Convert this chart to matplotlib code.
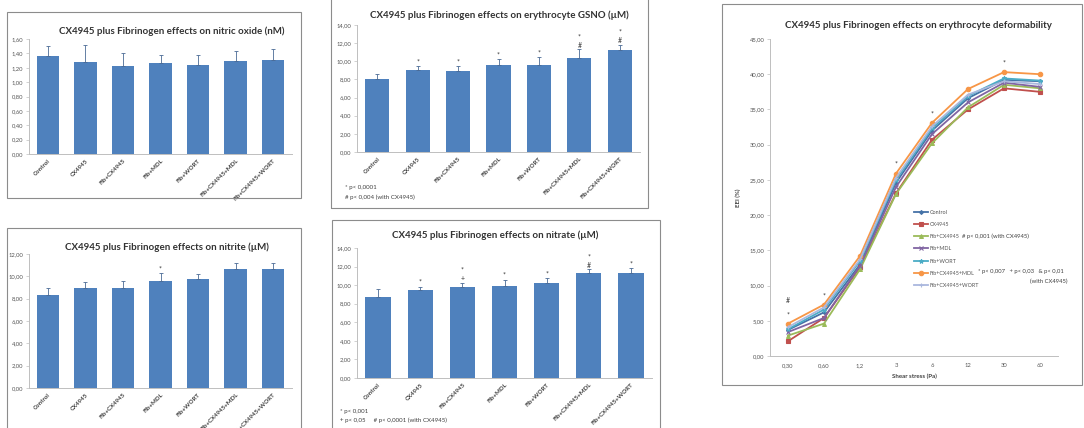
import numpy as np
import matplotlib.pyplot as plt
from matplotlib.patches import Rectangle
from matplotlib.lines import Line2D
from matplotlib.ticker import FuncFormatter

plt.rcParams['font.family'] = ['Lato', 'DejaVu Sans']

W, H = 1084, 428

groups = ['Control', 'CX4945', 'Fib+CX4945', 'Fib+MDL', 'Fib+WORT',
          'Fib+CX4945+MDL', 'Fib+CX4945+WORT']

# nitric oxide (nM)
no_mean = [1.36, 1.28, 1.23, 1.26, 1.24, 1.29, 1.31]
no_err = [0.14, 0.23, 0.17, 0.12, 0.14, 0.15, 0.15]

# erythrocyte GSNO (uM)
gsno_mean = [8.05, 9.0, 8.95, 9.55, 9.6, 10.4, 11.2]
gsno_err = [0.6, 0.5, 0.5, 0.7, 0.9, 0.9, 0.65]
gsno_marks = ['', '*', '*', '*', '*', '*\n#', '*\n#']

# nitrite (uM)
nitrite_mean = [8.3, 8.95, 9.0, 9.55, 9.75, 10.7, 10.7]
nitrite_err = [0.65, 0.55, 0.6, 0.75, 0.5, 0.5, 0.45]
nitrite_marks = ['', '', '', '*', '', '', '']

# nitrate (uM)
nitrate_mean = [8.75, 9.45, 9.8, 9.9, 10.25, 11.3, 11.35]
nitrate_err = [0.8, 0.4, 0.45, 0.7, 0.5, 0.4, 0.45]
nitrate_marks = ['', '*', '*\n+', '*', '*', '*\n#', '*']

# deformability (EEI %)
shear = ['0,30', '0,60', '1,2', '3', '6', '12', '30', '60']
eei_control = [3.7, 6.2, 13.0, 24.6, 32.0, 36.6, 39.2, 39.0]
eei_cx4945 = [2.1, 5.4, 12.6, 23.1, 30.7, 35.0, 38.0, 37.5]
eei_fib_cx = [2.9, 4.6, 12.3, 23.0, 30.2, 35.3, 38.5, 38.0]
eei_fib_mdl = [3.4, 5.4, 12.8, 24.0, 31.5, 36.0, 38.8, 38.2]
eei_fib_wort = [3.8, 6.6, 13.5, 25.0, 32.3, 36.9, 39.4, 39.1]
eei_fib_cx_mdl = [4.6, 7.3, 14.2, 25.9, 33.1, 37.9, 40.3, 40.0]
eei_fib_cx_wort = [4.1, 6.9, 13.7, 25.3, 32.6, 37.1, 39.0, 38.6]
eei_marks = ['#\n*', '*', '', '*', '*', '', '*', '']

bar_blue = '#4f81bd'
axis_gray = '#bfbfbf'


def comma(v, pos):
    return ('%.2f' % v).replace('.', ',')


fig = plt.figure(figsize=(W / 100, H / 100), dpi=100)


def px_axes(left, right, top, bottom):
    return fig.add_axes([left / W, 1 - bottom / H, (right - left) / W, (bottom - top) / H])


def box(x0, y0, x1, y1):
    fig.patches.append(Rectangle((x0 / W, 1 - y1 / H), (x1 - x0) / W, (y1 - y0) / H,
                                 transform=fig.transFigure, fill=False,
                                 edgecolor='#8c8c8c', lw=0.8))


def ftext(x, y, s, **kw):
    fig.text(x / W, 1 - y / H, s, **kw)


def bar_panel(ax, means, errs, ymax, step, marks=None):
    x = np.arange(len(groups))
    ax.bar(x, means, width=0.6, color=bar_blue, zorder=2)
    ax.errorbar(x, means, yerr=[np.zeros(len(errs)), errs], fmt='none',
                ecolor='#4a6a95', elinewidth=0.6, capsize=1.5, capthick=0.6, zorder=3)
    ax.set_xlim(-0.5, len(groups) - 0.5)
    ax.set_ylim(0, ymax)
    ax.set_yticks(np.arange(0, ymax + step / 2, step))
    ax.yaxis.set_major_formatter(FuncFormatter(comma))
    ax.set_xticks(x)
    ax.set_xticklabels(groups, rotation=45, ha='right', rotation_mode='anchor',
                       fontsize=4.4, fontweight='bold', color='#404040')
    for s in ['top', 'right']:
        ax.spines[s].set_visible(False)
    for s in ['left', 'bottom']:
        ax.spines[s].set_color(axis_gray)
        ax.spines[s].set_linewidth(0.7)
    ax.tick_params(axis='y', length=2, width=0.5, color=axis_gray, labelsize=4.2,
                   labelcolor='#555555', pad=2)
    ax.tick_params(axis='x', length=0, pad=3)
    ax.patch.set_alpha(0)
    if marks:
        for xi, m, e, s in zip(x, means, errs, marks):
            if s:
                ax.annotate(s, (xi, m + e), xytext=(0, 0.5), textcoords='offset points',
                            ha='center', va='bottom', fontsize=5, linespacing=1.2,
                            color='#333333')


# panel borders
box(7, 12, 301, 198)
box(331, -2, 648, 208)
box(7, 228, 301, 440)
box(332, 220, 660, 440)
box(722, 4, 1082, 385)

title_kw = dict(ha='center', va='center', fontsize=7.0, fontweight='bold', color='#333333')

# nitric oxide
ax1 = px_axes(29, 292, 39, 154)
bar_panel(ax1, no_mean, no_err, 1.6, 0.2)
ftext(172, 31, 'CX4945 plus Fibrinogen effects on nitric oxide (nM)', **title_kw)

# GSNO
ax2 = px_axes(357, 640, 25, 152)
bar_panel(ax2, gsno_mean, gsno_err, 14, 2, gsno_marks)
ftext(499, 15, 'CX4945 plus Fibrinogen effects on erythrocyte GSNO (µM)', **title_kw)
ftext(345, 188, '* p< 0,0001', fontsize=4.4, va='center', color='#404040')
ftext(345, 197, '# p< 0,004 (with CX4945)', fontsize=4.4, va='center', color='#404040')

# nitrite
ax3 = px_axes(29, 292, 254, 388)
bar_panel(ax3, nitrite_mean, nitrite_err, 12, 2, nitrite_marks)
ftext(167, 247, 'CX4945 plus Fibrinogen effects on nitrite (µM)', **title_kw)

# nitrate
ax4 = px_axes(357, 652, 248, 378)
bar_panel(ax4, nitrate_mean, nitrate_err, 14, 2, nitrate_marks)
ftext(495, 235, 'CX4945 plus Fibrinogen effects on nitrate (µM)', **title_kw)
ftext(340, 411, '* p< 0,001', fontsize=4.4, va='center', color='#404040')
ftext(340, 420, '+ p< 0,05     # p< 0,0001 (with CX4945)', fontsize=4.4, va='center',
      color='#404040')

# deformability
ax5 = px_axes(770, 1058, 39, 356)
xs = np.arange(len(shear))
series = [
    ('Control', eei_control, '#4572a7', 'D', 2.0),
    ('CX4945', eei_cx4945, '#c0504d', 's', 3.2),
    ('Fib+CX4945', eei_fib_cx, '#9bbb59', '^', 2.8),
    ('Fib+MDL', eei_fib_mdl, '#8064a2', 'x', 2.6),
    ('Fib+WORT', eei_fib_wort, '#4bacc6', '*', 3.2),
    ('Fib+CX4945+MDL', eei_fib_cx_mdl, '#f79646', 'o', 3.2),
    ('Fib+CX4945+WORT', eei_fib_cx_wort, '#aab8de', '+', 3.0),
]
handles = []
for name, vals, col, mk, ms in series:
    ax5.plot(xs, vals, color=col, lw=1.3, marker=mk, ms=ms, mew=0.8, zorder=3)
    handles.append(Line2D([], [], color=col, lw=1.3, marker=mk, ms=ms, mew=0.8, label=name))
ax5.set_xlim(-0.5, len(shear) - 0.5)
ax5.set_ylim(0, 45)
ax5.set_yticks(np.arange(0, 46, 5))
ax5.yaxis.set_major_formatter(FuncFormatter(comma))
ax5.set_xticks(xs)
ax5.set_xticklabels(shear)
for s in ['top', 'right']:
    ax5.spines[s].set_visible(False)
for s in ['left', 'bottom']:
    ax5.spines[s].set_color(axis_gray)
    ax5.spines[s].set_linewidth(0.7)
ax5.tick_params(axis='y', length=2, width=0.5, color=axis_gray, labelsize=4.2,
                labelcolor='#555555', pad=2)
ax5.tick_params(axis='x', length=0, labelsize=4.2, labelcolor='#555555', pad=5)
ax5.set_xlabel('Shear stress (Pa)', fontsize=4.4, fontweight='bold', color='#404040', labelpad=4)
ax5.set_ylabel('EEI (%)', fontsize=4.4, fontweight='bold', color='#404040', labelpad=6)
ax5.patch.set_alpha(0)
tops = np.max([eei_control, eei_cx4945, eei_fib_cx, eei_fib_mdl, eei_fib_wort,
               eei_fib_cx_mdl, eei_fib_cx_wort], axis=0)
for xi, t, s in zip(xs, tops, eei_marks):
    if s:
        ax5.annotate(s, (xi, t), xytext=(0, 4), textcoords='offset points',
                     ha='center', va='bottom', fontsize=5, linespacing=2.2, color='#333333')
ftext(918, 25, 'CX4945 plus Fibrinogen effects on erythrocyte deformability', **title_kw)

leg = fig.legend(handles=handles, loc='upper left', bbox_to_anchor=(911 / W, 1 - 207 / H),
                 frameon=False, fontsize=3.9, handlelength=2.6, handletextpad=0.35,
                 labelspacing=1.33, borderpad=0)
for t in leg.get_texts():
    t.set_color('#555555')
ftext(962, 236, '# p< 0,001 (with CX4945)', fontsize=4.2, va='center', color='#404040')
ftext(978, 272, '* p< 0,007   + p< 0,03   & p< 0,01', fontsize=4.2, va='center',
      color='#404040')
ftext(1068, 281, '(with CX4945)', fontsize=4.2, va='center', ha='right', color='#404040')

fig.savefig('out.png', dpi=100)
